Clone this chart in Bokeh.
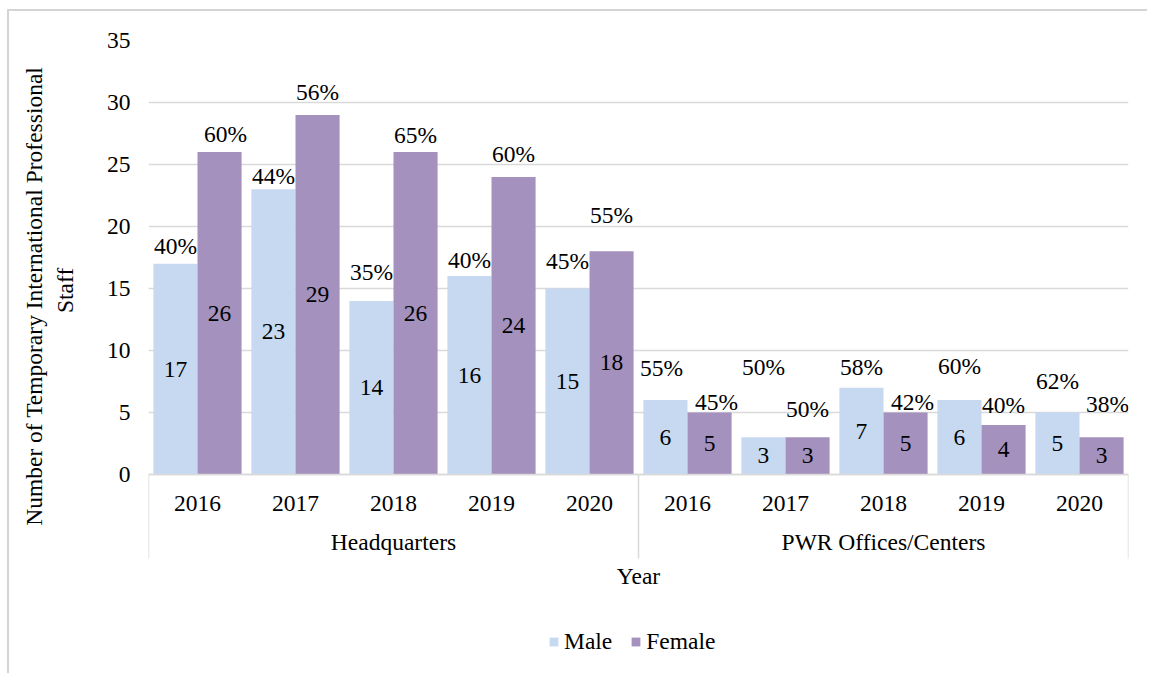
from bokeh.plotting import figure
from bokeh.models import (FactorRange, Range1d, ColumnDataSource, FixedTicker,
                          Legend, LegendItem)
from bokeh.core.properties import value
from bokeh.transform import dodge
from bokeh.embed import file_html
from bokeh.resources import INLINE

# ---- data ----
groups = ["Headquarters", "PWR Offices/Centers"]
years = ["2016", "2017", "2018", "2019", "2020"]
male = [17, 23, 14, 16, 15, 6, 3, 7, 6, 5]
female = [26, 29, 26, 24, 18, 5, 3, 5, 4, 3]
male_pct = ["40%", "44%", "35%", "40%", "45%", "55%", "50%", "58%", "60%", "62%"]
female_pct = ["60%", "56%", "65%", "60%", "55%", "45%", "50%", "42%", "40%", "38%"]
y_ticks = [0, 5, 10, 15, 20, 25, 30, 35]

# ---- label layout (pixel offsets of percentage labels above bar tops) ----
male_dy = [18, 13, 29, 16, 28, 32, 70, 21, 34, 32]
female_dy = [18, 23, 17, 23, 36, 11, 28, 11, 20, 33]
male_dx = [0, 0, 0, 0, 0, -4, 0, 0, 0, 0]
female_dx = [6, 0, 0, 0, 0, 7, 0, 7, 0, 6]

FONT = "Liberation Serif"
FS = "23.5px"
MALE_C = "#C6D9F1"
FEMALE_C = "#A491BD"
GRID_C = "#D9D9D9"

# ---- layout (pixels) ----
W, H = 1140, 664
MB_L, MB_T, MB_R, MB_B = 139, 29, 21, 6
VALUE_AREA_PX = 434          # height of the 0..35 value area
CAT_BOX_PX = 84              # depth of the category box below the value area
frame_h = H - MB_T - MB_B
y_max = y_ticks[-1]
px_per_unit = VALUE_AREA_PX / y_max
y_min = -(frame_h - VALUE_AREA_PX) / px_per_unit   # room below 0 for the category box
box_depth = CAT_BOX_PX / px_per_unit

factors = [(g, y) for g in groups for y in years]

src = ColumnDataSource(dict(
    x=factors, male=male, female=female,
    male_half=[v / 2 for v in male], female_half=[v / 2 for v in female],
    male_lbl=[str(v) for v in male], female_lbl=[str(v) for v in female],
    male_pct=male_pct, female_pct=female_pct,
    male_dy=[-d for d in male_dy], female_dy=[-d for d in female_dy],
    male_dx=male_dx, female_dx=female_dx,
))

xr = FactorRange(*factors, factor_padding=0, group_padding=0, range_padding=0)
p = figure(x_range=xr, y_range=Range1d(y_min, y_max),
           width=W, height=H, output_backend="svg", toolbar_location=None,
           min_border_left=MB_L, min_border_top=MB_T, min_border_right=MB_R,
           min_border_bottom=MB_B)
p.styles = {"border-top": "2px solid #D4D4D4", "border-left": "2px solid #D4D4D4",
            "margin-left": "7px", "margin-top": "9px"}
p.outline_line_color = None
p.background_fill_color = "white"

# category box lines (group boundaries, drawn below the 0 line)
bounds = [0, len(years), len(factors)]
p.segment(x0=bounds, x1=bounds, y0=[0] * 3, y1=[-box_depth] * 3,
          line_color=GRID_C, line_width=1.5)

bw = 0.45
rm = p.vbar(x=dodge("x", -0.225, range=xr), top="male", width=bw, source=src,
            fill_color=MALE_C, line_color=None)
rf = p.vbar(x=dodge("x", 0.225, range=xr), top="female", width=bw, source=src,
            fill_color=FEMALE_C, line_color=None)

common = dict(source=src, text_font=value(FONT), text_font_size=FS, text_color="black",
              text_align="center", text_baseline="middle")
p.text(x=dodge("x", -0.225, range=xr), y="male_half", text="male_lbl", **common)
p.text(x=dodge("x", 0.225, range=xr), y="female_half", text="female_lbl", **common)
p.text(x=dodge("x", -0.225, range=xr), y="male", text="male_pct",
       x_offset="male_dx", y_offset="male_dy", **common)
p.text(x=dodge("x", 0.225, range=xr), y="female", text="female_pct",
       x_offset="female_dx", y_offset="female_dy", **common)

# y axis
NB = "\u00a0"
p.yaxis.ticker = FixedTicker(ticks=y_ticks)
p.yaxis.axis_line_color = None
p.yaxis.major_tick_line_color = None
p.yaxis.minor_tick_line_color = None
p.yaxis.major_label_text_font = FONT
p.yaxis.major_label_text_font_size = FS
p.yaxis.major_label_text_color = "black"
p.yaxis.major_label_standoff = 12
p.yaxis.axis_label = (NB * 20 + "Number of Temporary International Professional\n"
                      + NB * 22 + "Staff")
p.yaxis.axis_label_text_font = FONT
p.yaxis.axis_label_text_font_size = FS
p.yaxis.axis_label_text_font_style = "normal"
p.yaxis.axis_label_text_color = "black"
p.yaxis.axis_label_standoff = 26

p.ygrid.grid_line_color = GRID_C
p.ygrid.grid_line_width = 1.5
p.xgrid.grid_line_color = None

# x axis (nested), pinned at y = 0
xa = p.xaxis[0]
xa.fixed_location = 0
xa.axis_line_color = GRID_C
xa.axis_line_width = 1.5
xa.major_tick_line_color = None
xa.minor_tick_line_color = None
xa.major_label_text_font = FONT
xa.major_label_text_font_size = FS
xa.major_label_text_color = "black"
xa.major_label_standoff = 15
xa.group_text_font = FONT
xa.group_text_font_size = FS
xa.group_text_color = "black"
xa.group_text_font_style = "normal"
xa.separator_line_color = None
xa.axis_label = "Year"
xa.axis_label_text_font = FONT
xa.axis_label_text_font_size = FS
xa.axis_label_text_font_style = "normal"
xa.axis_label_text_color = "black"

legend = Legend(items=[LegendItem(label="Male", renderers=[rm]),
                       LegendItem(label="Female", renderers=[rf])],
                orientation="horizontal", location=(400, 14),
                glyph_width=11, glyph_height=11, label_text_font=FONT,
                label_text_font_size=FS, label_text_color="black",
                border_line_color=None, background_fill_alpha=0, spacing=18,
                label_standoff=5, margin=0, padding=0)
p.add_layout(legend)

open("out.html", "w").write(file_html(p, INLINE))
